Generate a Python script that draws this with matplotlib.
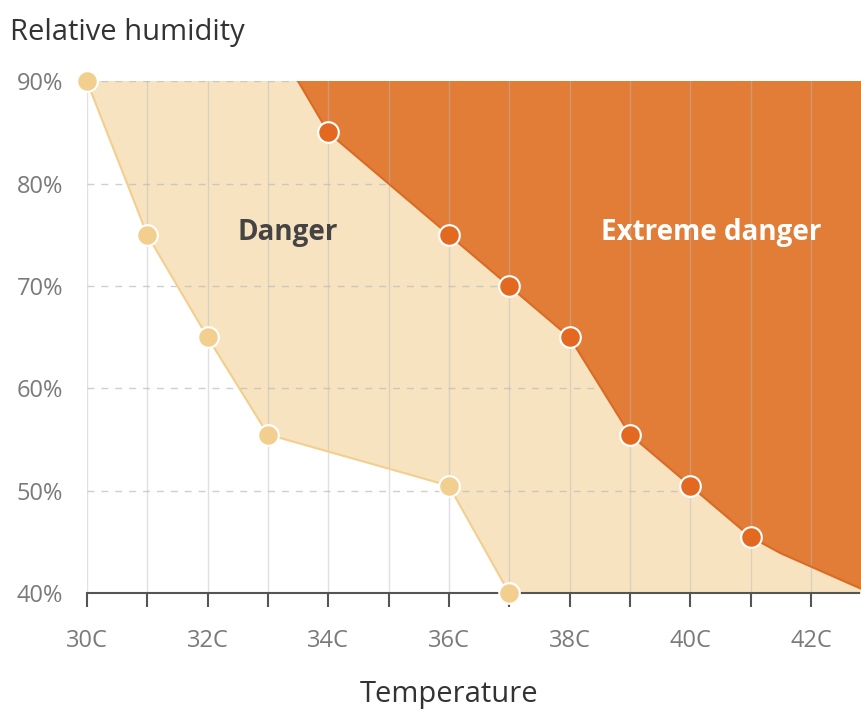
import numpy as np
import matplotlib.pyplot as plt

plt.rcParams['font.family'] = ['Open Sans', 'DejaVu Sans']

# danger lower boundary (temperature C, relative humidity %)
danger_temp = [30, 31, 32, 33, 36, 37]
danger_rh = [90, 75, 65, 55.5, 50.5, 40]

# extreme danger boundary
extreme_temp = [33, 34, 36, 37, 38, 39, 40, 41, 41.5, 42, 42.5, 43]
extreme_rh = [95, 85, 75, 70, 65, 55.5, 50.5, 45.5, 43.9, 42.6, 41.3, 40]
extreme_marked = [34, 36, 37, 38, 39, 40, 41, 43]

xticks = [30, 32, 34, 36, 38, 40, 42]
xticklabels = ['30C', '32C', '34C', '36C', '38C', '40C', '42C']
yticks = [40, 50, 60, 70, 80, 90]
yticklabels = ['40%', '50%', '60%', '70%', '80%', '90%']

light = '#f7e3c0'
light_edge = '#f2cf8f'
orange = '#e27d38'
orange_dot = '#e2691f'

fig = plt.figure(figsize=(8.61, 7.13), dpi=100)
ax = fig.add_axes([0.101, 0.168, 0.899, 0.718])

xmin, xmax = 30, 42.83
ymin, ymax = 40, 90

# danger region (light background), white below the danger curve
ax.fill([29, 44, 44, 29], [30, 30, 95, 95], color=light, zorder=1, lw=0)
ax.fill(danger_temp + [37, 29, 29], danger_rh + [30, 30, 90], color='white', zorder=1.1, lw=0)
# extreme region
ax.fill(extreme_temp + [44, 44], extreme_rh + [30, 95], color=orange, zorder=2, lw=0)

ax.plot(danger_temp, danger_rh, color=light_edge, lw=1.5, zorder=3)
ax.plot(extreme_temp, extreme_rh, color='#db6a25', lw=1.5, zorder=3)

# grid
for t in range(30, 44):
    ax.axvline(t, color='#bbbbbb', lw=1, alpha=0.45, zorder=2.5)
for h in yticks[1:]:
    ax.axhline(h, color='#bbbbbb', lw=1, ls=(0, (5, 5)), alpha=0.7, zorder=1.5)

ax.scatter(danger_temp, danger_rh, s=220, color=light_edge, edgecolor='white',
           linewidth=1.5, zorder=5, clip_on=False)
mk_rh = [extreme_rh[extreme_temp.index(t)] for t in extreme_marked]
ax.scatter(extreme_marked, mk_rh, s=220, color=orange_dot, edgecolor='white',
           linewidth=1.5, zorder=5, clip_on=False)

ax.text(33.32, 75.2, 'Danger', fontsize=20, fontweight='bold', color='#444444',
        ha='center', va='center', zorder=6)
ax.text(40.35, 75.2, 'Extreme danger', fontsize=20, fontweight='bold', color='white',
        ha='center', va='center', zorder=6)

ax.set_xlim(xmin, xmax)
ax.set_ylim(ymin, ymax)
ax.set_xticks(range(30, 43))
ax.set_xticklabels([xticklabels[xticks.index(t)] if t in xticks else '' for t in range(30, 43)])
ax.set_yticks(yticks)
ax.set_yticklabels(yticklabels)
ax.tick_params(axis='x', length=10, width=1.5, color='#555555', labelsize=17,
               labelcolor='#7a7a7a', pad=16)
ax.tick_params(axis='y', length=0, labelsize=17, labelcolor='#7a7a7a', pad=17)
for s in ['top', 'right', 'left']:
    ax.spines[s].set_visible(False)
ax.spines['bottom'].set_color('#555555')
ax.spines['bottom'].set_linewidth(1.5)
ax.spines['bottom'].set_zorder(4)

ax.set_xlabel('Temperature', fontsize=21, color='#333333')
ax.xaxis.set_label_coords((36 - xmin) / (xmax - xmin), -0.17)
fig.text(0.012, 0.955, 'Relative humidity', fontsize=21, color='#333333', va='center')

fig.savefig('out.png', dpi=100)
